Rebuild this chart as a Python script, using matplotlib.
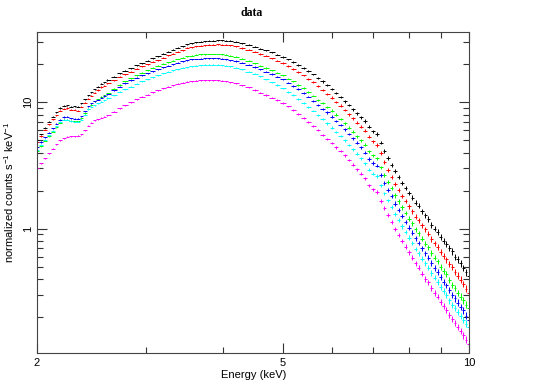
import numpy as np
import matplotlib.pyplot as plt
from matplotlib.ticker import FixedLocator, FixedFormatter, NullFormatter

plt.rcParams['font.family'] = ['Liberation Sans', 'DejaVu Sans']
plt.rcParams['mathtext.fontset'] = 'custom'
plt.rcParams['mathtext.rm'] = 'Liberation Sans'

# channel energies (keV)
energy = [2.00, 2.03, 2.06, 2.09, 2.12, 2.15, 2.18, 2.21, 2.24, 2.27,
          2.30, 2.33, 2.36, 2.39, 2.42, 2.45, 2.48, 2.51, 2.54, 2.57, 2.60,
          2.66, 2.72, 2.78, 2.84, 2.90, 2.96, 3.02, 3.08, 3.14, 3.20,
          3.26, 3.32, 3.38, 3.44, 3.50, 3.56, 3.62, 3.68, 3.74, 3.80,
          3.86, 3.92, 3.98, 4.04, 4.10,
          4.2, 4.3, 4.4, 4.5, 4.6, 4.7, 4.8, 4.9, 5.0, 5.1,
          5.2, 5.3, 5.4, 5.5, 5.6, 5.7, 5.8, 5.9, 6.0, 6.1,
          6.2, 6.3, 6.4, 6.5, 6.6, 6.7, 6.8, 6.9, 7.0, 7.1,
          7.2, 7.3, 7.4, 7.5, 7.6, 7.7, 7.8, 7.9, 8.0, 8.1,
          8.2, 8.3, 8.4, 8.5, 8.6, 8.7, 8.8, 8.9, 9.0, 9.1,
          9.2, 9.3, 9.4, 9.5, 9.6, 9.7, 9.8, 9.9, 10.0]

# relative 1-sigma error (%)
err_pct = [1.0] * 21 + [0.9] * 25 + [
    1.0, 1.0, 1.0, 1.1, 1.1, 1.1, 1.2, 1.2, 1.3, 1.3,
    1.4, 1.5, 1.5, 1.6, 1.7, 1.8, 1.9, 2.0, 2.1, 2.2,
    2.3, 2.4, 2.5, 2.6, 2.7, 2.8, 2.9, 3.0, 3.1, 3.2,
    3.4, 3.5, 3.6, 3.7, 3.8, 3.9, 4.0, 4.1, 4.2, 4.3,
    4.4, 4.5, 4.6, 4.7, 4.8, 4.9, 5.0, 5.1, 5.2, 5.3,
    5.4, 5.5, 5.6, 5.7, 5.8, 5.9, 6.0, 6.1, 6.2]

black = [5.0, 5.6, 6.3, 7.0, 7.7, 8.3, 9.0, 9.4, 9.5, 9.2,
         9.3, 9.2, 9.8, 10.6, 11.4, 12.0, 12.7, 13.3, 14.0, 14.4, 15.0,
         15.9, 16.9, 17.7, 18.6, 19.6, 20.4, 21.3, 22.3, 23.1, 24.2,
         25.1, 26.0, 27.0, 27.8, 28.9, 29.3, 29.8, 30.1, 30.4, 30.6,
         30.8, 31.0, 30.9, 30.8, 30.6,
         30.1, 29.4, 28.6, 27.6, 26.6, 25.8, 24.8, 23.8, 22.9, 21.8,
         20.8, 19.7, 18.6, 17.6, 16.6, 15.5, 14.6, 13.6, 12.7, 11.8,
         11.0, 10.2, 9.5, 8.8, 8.2, 7.6, 7.1, 6.4, 5.9, 5.6,
         4.8, 4.1, 3.6, 3.2, 2.85, 2.55, 2.3, 2.1, 1.92, 1.76,
         1.6, 1.52, 1.37, 1.28, 1.19, 1.07, 1.0, 0.94, 0.86, 0.8,
         0.76, 0.7, 0.66, 0.6, 0.57, 0.53, 0.49, 0.45, 0.42]

red = [4.85, 5.4, 6.05, 6.7, 7.35, 7.9, 8.55, 8.9, 9.0, 8.7,
       8.75, 8.6, 9.2, 9.95, 10.7, 11.3, 11.9, 12.5, 13.2, 13.5, 14.1,
       14.9, 15.9, 16.6, 17.5, 18.4, 19.2, 20.0, 20.9, 21.6, 22.6,
       23.5, 24.3, 25.1, 25.9, 26.9, 27.2, 27.7, 28.0, 28.3, 28.5,
       28.5, 28.7, 28.6, 28.5, 28.3,
       27.7, 26.9, 26.1, 25.1, 24.1, 23.3, 22.3, 21.3, 20.4, 19.3,
       18.3, 17.3, 16.3, 15.3, 14.4, 13.4, 12.6, 11.7, 10.9, 10.1,
       9.4, 8.7, 8.05, 7.45, 6.9, 6.4, 5.95, 5.35, 4.9, 4.6,
       3.95, 3.35, 2.9, 2.55, 2.27, 2.02, 1.81, 1.65, 1.5, 1.37,
       1.24, 1.17, 1.06, 0.99, 0.91, 0.83, 0.765, 0.72, 0.65, 0.605,
       0.57, 0.525, 0.495, 0.455, 0.425, 0.395, 0.365, 0.335, 0.31]

green = [4.1, 4.5, 4.95, 5.4, 5.85, 6.35, 6.9, 7.25, 7.3, 7.15,
         7.1, 7.1, 7.45, 8.2, 8.9, 9.6, 10.2, 10.6, 11.0, 11.4, 11.8,
         12.8, 13.7, 14.6, 15.5, 16.4, 17.2, 18.0, 18.7, 19.4, 20.1,
         20.7, 21.3, 22.0, 22.6, 23.1, 23.4, 23.7, 23.9, 24.0, 24.1,
         24.1, 24.1, 23.9, 23.7, 23.4,
         22.9, 22.1, 21.3, 20.4, 19.5, 18.7, 17.9, 17.1, 16.3, 15.4,
         14.6, 13.7, 12.9, 12.1, 11.3, 10.5, 9.8, 9.2, 8.6, 8.0,
         7.4, 6.8, 6.3, 5.85, 5.4, 5.0, 4.6, 4.1, 3.8, 3.6,
         3.05, 2.65, 2.33, 2.08, 1.83, 1.64, 1.47, 1.33, 1.2, 1.1,
         0.99, 0.92, 0.83, 0.76, 0.71, 0.64, 0.59, 0.55, 0.5, 0.46,
         0.44, 0.39, 0.36, 0.34, 0.31, 0.29, 0.27, 0.25, 0.235]

blue = [4.45, 4.85, 5.3, 5.75, 6.25, 6.75, 7.3, 7.65, 7.7, 7.5,
        7.4, 7.4, 7.75, 8.5, 9.3, 9.8, 10.2, 10.5, 10.9, 11.2, 11.6,
        12.5, 13.3, 14.1, 14.9, 15.6, 16.3, 17.0, 17.6, 18.2, 18.9,
        19.5, 20.0, 20.6, 21.1, 21.5, 21.8, 22.0, 22.2, 22.3, 22.4,
        22.4, 22.3, 22.1, 21.9, 21.6,
        21.2, 20.5, 19.8, 19.0, 18.2, 17.4, 16.7, 15.9, 15.2, 14.3,
        13.5, 12.7, 11.9, 11.1, 10.3, 9.6, 8.9, 8.3, 7.7, 7.1,
        6.6, 6.1, 5.6, 5.2, 4.8, 4.4, 4.0, 3.55, 3.3, 3.15,
        2.65, 2.3, 2.02, 1.8, 1.58, 1.41, 1.26, 1.13, 1.02, 0.93,
        0.84, 0.77, 0.7, 0.64, 0.59, 0.535, 0.49, 0.455, 0.415, 0.38,
        0.355, 0.325, 0.3, 0.28, 0.26, 0.24, 0.225, 0.205, 0.19]

cyan = [4.2, 4.6, 5.05, 5.5, 5.95, 6.45, 7.0, 7.3, 7.3, 7.1,
        7.0, 7.0, 7.3, 8.0, 8.8, 9.2, 9.5, 9.8, 10.1, 10.4, 10.8,
        11.4, 12.1, 12.7, 13.3, 14.0, 14.6, 15.2, 15.8, 16.4, 17.0,
        17.5, 17.9, 18.3, 18.7, 19.0, 19.3, 19.5, 19.7, 19.8, 19.9,
        19.9, 19.8, 19.6, 19.4, 19.2,
        18.8, 18.2, 17.5, 16.8, 16.0, 15.2, 14.4, 13.7, 12.9, 12.1,
        11.4, 10.6, 9.9, 9.2, 8.6, 8.0, 7.4, 6.8, 6.3, 5.8,
        5.4, 5.0, 4.6, 4.25, 3.9, 3.6, 3.3, 2.92, 2.72, 2.6,
        2.2, 1.9, 1.67, 1.48, 1.31, 1.17, 1.04, 0.94, 0.85, 0.77,
        0.69, 0.64, 0.58, 0.53, 0.49, 0.445, 0.41, 0.38, 0.345, 0.32,
        0.3, 0.27, 0.25, 0.235, 0.218, 0.203, 0.19, 0.177, 0.165]

magenta = [3.0, 3.3, 3.6, 3.95, 4.3, 4.65, 5.0, 5.2, 5.35, 5.4,
           5.4, 5.45, 5.6, 6.0, 6.5, 6.9, 7.2, 7.35, 7.55, 7.7, 7.9,
           8.4, 9.0, 9.5, 10.0, 10.6, 11.1, 11.5, 12.0, 12.5, 12.9,
           13.3, 13.6, 14.0, 14.3, 14.5, 14.7, 14.8, 14.9, 15.0, 15.0,
           15.0, 14.9, 14.8, 14.6, 14.4,
           14.1, 13.6, 13.1, 12.5, 11.9, 11.4, 10.9, 10.4, 9.9, 9.3,
           8.7, 8.1, 7.5, 7.0, 6.5, 6.0, 5.5, 5.1, 4.75, 4.4,
           4.1, 3.8, 3.5, 3.2, 2.95, 2.72, 2.5, 2.2, 2.05, 1.95,
           1.65, 1.45, 1.28, 1.13, 1.0, 0.89, 0.8, 0.72, 0.65, 0.59,
           0.53, 0.49, 0.44, 0.4, 0.375, 0.34, 0.31, 0.29, 0.263, 0.243,
           0.228, 0.208, 0.193, 0.18, 0.167, 0.155, 0.143, 0.132, 0.122]

series = [black, red, green, blue, cyan, magenta]
colors = ['black', '#ff0000', '#00ff00', '#0000ff', '#00ffff', '#ff00ff']

E = np.array(energy)
edges = np.concatenate([[E[0]], (E[1:] + E[:-1]) / 2, [E[-1]]])
xlo = E - edges[:-1]
xhi = edges[1:] - E
rel = np.array(err_pct) / 100

fig = plt.figure(figsize=(5.37, 3.82), dpi=100)
ax = fig.add_axes([0.069, 0.075, 0.804, 0.8405])

for vals, c in zip(series, colors):
    y = np.array(vals)
    ax.errorbar(E, y, xerr=[xlo, xhi], yerr=y * rel, fmt='none',
                ecolor=c, elinewidth=0.7, capsize=0)

ax.set_xscale('log')
ax.set_yscale('log')
ax.set_xlim(2, 10)
ax.set_ylim(0.103, 35.8)

ax.xaxis.set_major_locator(FixedLocator([2, 5, 10]))
ax.xaxis.set_minor_locator(FixedLocator([3, 4, 6, 7, 8, 9]))
ax.xaxis.set_major_formatter(FixedFormatter(['2', '5', '10']))
ax.xaxis.set_minor_formatter(NullFormatter())
ax.yaxis.set_major_locator(FixedLocator([1, 10]))
ax.yaxis.set_minor_locator(FixedLocator([0.2, 0.3, 0.4, 0.5, 0.6, 0.7, 0.8, 0.9,
                                         2, 3, 4, 5, 6, 7, 8, 9, 20, 30]))
ax.yaxis.set_major_formatter(FixedFormatter(['1', '10']))
ax.yaxis.set_minor_formatter(NullFormatter())

ax.tick_params(which='both', direction='in', top=True, right=True,
               labelsize=8, color='#333333', width=0.8, pad=3)
ax.tick_params(which='major', length=7)
ax.tick_params(which='minor', length=4)
for lab in ax.get_yticklabels():
    lab.set_rotation(90)
    lab.set_va('center')
for s in ax.spines.values():
    s.set_color('#444444')
    s.set_linewidth(0.8)

fig.text(0.473, 0.004, 'Energy (keV)', ha='center', va='bottom', fontsize=8)
ax.set_ylabel('normalized counts s$^{-1}$ keV$^{-1}$', fontsize=8, labelpad=5)
fig.text(0.4693, 0.966, 'data', ha='center', va='center',
         fontsize=8.5, fontweight='bold', family='Liberation Serif')

fig.savefig('out.png', dpi=100)
